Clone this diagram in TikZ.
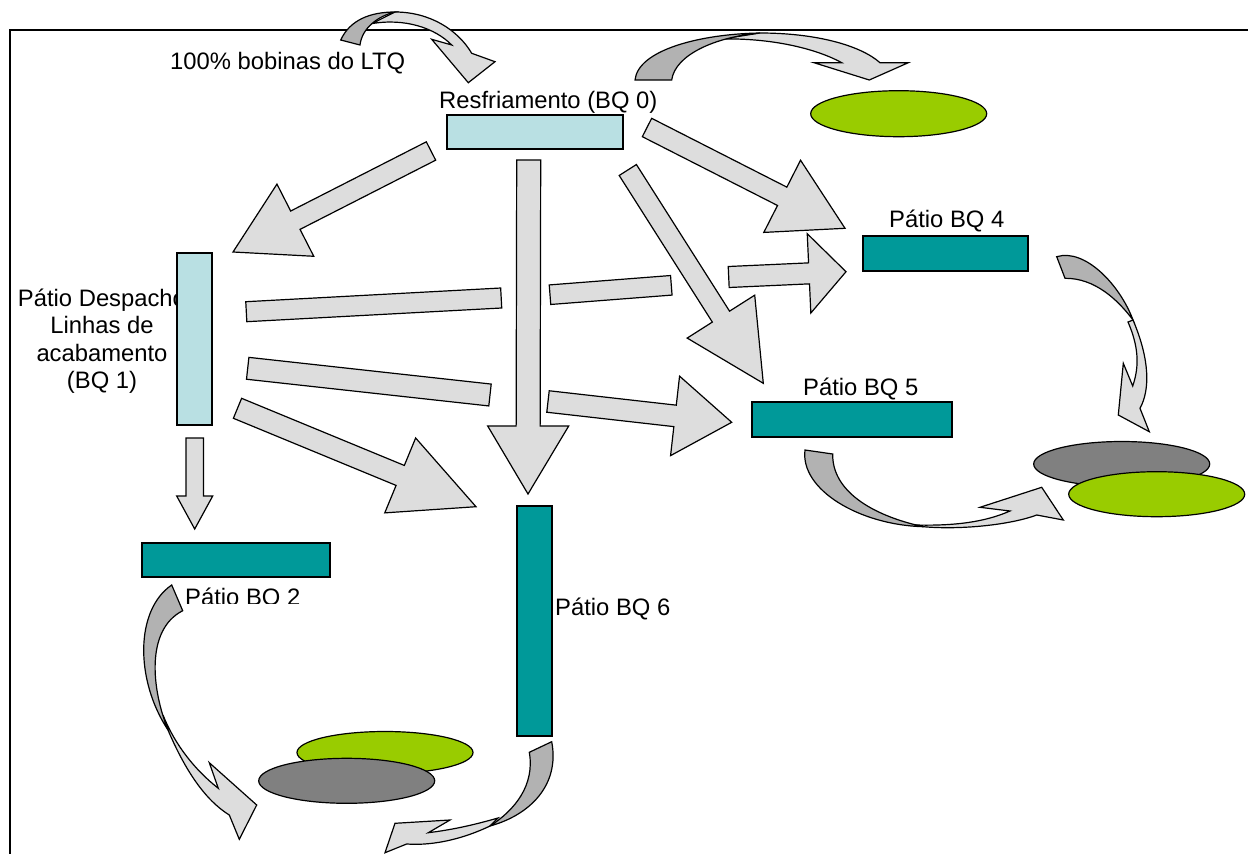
\documentclass[tikz,border=0pt]{standalone}
\usepackage{fontspec}
\setmainfont{Liberation Sans}
\usetikzlibrary{calc,shapes.geometric}
\definecolor{lblue}{HTML}{B9E0E3}
\definecolor{bqteal}{HTML}{009999}
\definecolor{agray}{HTML}{DDDDDD}
\definecolor{dgray}{HTML}{B2B2B2}
\definecolor{egray}{HTML}{808080}
\definecolor{lgreen}{HTML}{99CC00}
\newcommand{\blockarr}[5]{%
  \coordinate (bab) at ($(#2)!#5!(#1)$);
  \filldraw[arr] ($(#1)!#3!90:(#2)$) -- ($(bab)!#3!90:(#2)$) -- ($(bab)!#4!90:(#2)$) -- (#2) -- ($(bab)!#4!-90:(#2)$) -- ($(bab)!#3!-90:(#2)$) -- ($(#1)!#3!-90:(#2)$) -- cycle;}
\newcommand{\blockbar}[3]{%
  \filldraw[arr] ($(#1)!#3!90:(#2)$) -- ($(#2)!#3!-90:(#1)$) -- ($(#2)!#3!90:(#1)$) -- ($(#1)!#3!-90:(#2)$) -- cycle;}
\begin{document}
\begin{tikzpicture}[x=1pt,y=-1pt,
  box/.style={draw=black, line width=1.2pt, inner sep=0pt},
  arr/.style={fill=agray, draw=black, line width=1.2pt},
  arrd/.style={fill=dgray, draw=black, line width=1.2pt},
  ell/.style={ellipse, draw=black, line width=1.2pt, inner sep=0pt, minimum width=176pt, minimum height=45pt},
  lbl/.style={font=\fontsize{23.8}{27.5}\selectfont, inner sep=0pt}]
\useasboundingbox (0,0) rectangle (1248,854);
\fill[white] (0,0) rectangle (1248,854);
% frame
\draw[line width=1.2pt] (10,854) -- (10,30) -- (1248,30);
% BQ1 text under its box
\node[lbl, align=center] (t1) at (102,341) {Pátio Despacho\\Linhas de\\acabamento\\(BQ 1)};
% boxes
\node[box, fill=lblue, minimum width=176pt, minimum height=34pt] (bq0) at (535,132) {};
\node[box, fill=lblue, minimum width=35pt, minimum height=172pt] (bq1) at (194.5,339) {};
\node[box, fill=bqteal, minimum width=165pt, minimum height=35pt] (bq4) at (945.5,253.5) {};
\node[box, fill=bqteal, minimum width=200pt, minimum height=35pt] (bq5) at (852,419.5) {};
\node[box, fill=bqteal, minimum width=188pt, minimum height=34pt] (bq2) at (236,560) {};
\node[box, fill=bqteal, minimum width=35pt, minimum height=230pt] (bq6) at (534.5,621) {};
% straight block arrows
\coordinate (a1s) at (431,151);   \coordinate (a1t) at (233,252);
\coordinate (a2s) at (647,127.5); \coordinate (a2t) at (845,228.3);
\coordinate (a3s) at (627.8,170); \coordinate (a3t) at (763.3,383.3);
\coordinate (a4s) at (528.7,160); \coordinate (a4t) at (528,494);
\coordinate (a7s) at (237.5,408.3); \coordinate (a7t) at (476,506.7);
\coordinate (a8s) at (194.7,438); \coordinate (a8t) at (194.7,529);
\coordinate (aCs) at (728.7,277); \coordinate (aCt) at (846,271.7);
\coordinate (aEs) at (548,401.5); \coordinate (aEt) at (731.7,422.3);
\coordinate (rAs) at (246.3,311.7); \coordinate (rAt) at (501.2,298);
\coordinate (rBs) at (550,294.7); \coordinate (rBt) at (671.3,285.3);
\coordinate (rDs) at (247.7,368.3); \coordinate (rDt) at (490,395);
\blockarr{a1s}{a1t}{10.3pt}{40.5pt}{70pt}
\blockarr{a2s}{a2t}{10.3pt}{40.5pt}{70.5pt}
\blockarr{a3s}{a3t}{10.2pt}{40pt}{79pt}
\blockarr{a4s}{a4t}{12pt}{40.5pt}{68pt}
\blockarr{a7s}{a7t}{10.8pt}{40.5pt}{82pt}
\blockarr{a8s}{a8t}{8.7pt}{18pt}{33pt}
\blockarr{aCs}{aCt}{10.5pt}{39.7pt}{37pt}
\blockarr{aEs}{aEt}{10.8pt}{40pt}{57pt}
\blockbar{rAs}{rAt}{10pt}
\blockbar{rBs}{rBt}{9.8pt}
\blockbar{rDs}{rDt}{11pt}
% curved arrows
% top-left (into BQ0)
\filldraw[arr] (395,12) .. controls (430,12) and (458,30) .. (471.7,53.3) -- (495,61.7) -- (468.3,82.7) -- (431.7,39.3) -- (451.7,45) .. controls (435,28) and (405,18) .. (372,23.6) -- cycle;
\filldraw[arrd] (340.7,40) .. controls (350,20) and (370,12) .. (395,12) .. controls (378,16) and (362,28) .. (360,45) -- cycle;
% top-right
\filldraw[arr] (760,33) .. controls (815,33) and (860,45) .. (880,62.7) -- (908.3,62.7) -- (869.3,80) -- (814,62.7) -- (841.7,62.7) .. controls (815,48) and (770,38) .. (722,39) -- cycle;
\filldraw[arrd] (635,80) .. controls (638,50) and (700,34) .. (760,33) .. controls (715,37) and (675,55) .. (671.7,80) -- cycle;
% right (BQ4)
\filldraw[arr] (1133,320) .. controls (1150,360) and (1150,390) .. (1140,408.3) -- (1149.3,431.7) -- (1118.3,415) -- (1123.3,363.3) -- (1132.7,386) .. controls (1140,365) and (1138,345) .. (1128,322) -- cycle;
\filldraw[arrd] (1056.7,256.7) .. controls (1085,248) and (1120,285) .. (1133,320) .. controls (1118,300) and (1095,278) .. (1065,278.3) -- cycle;
% BQ5
\filldraw[arr] (923.3,526.7) .. controls (960,530) and (1010,525) .. (1036.7,515) -- (1063.3,520) -- (1041.7,487.3) -- (980,507.3) -- (1010,511) .. controls (985,522) and (955,526) .. (915,525) -- cycle;
\filldraw[arrd] (805,450) .. controls (800,490) and (860,525) .. (923.3,526.7) .. controls (870,515) and (832,490) .. (832.7,454) -- cycle;
% BQ2
\filldraw[arr] (168,730) .. controls (185,770) and (205,800) .. (229.3,815) -- (239.3,839.3) -- (256.7,805) -- (209.3,762.7) -- (218.3,788.3) .. controls (195,770) and (175,745) .. (163,715) -- cycle;
\filldraw[arrd] (171.7,585) .. controls (135,610) and (135,680) .. (168,730) .. controls (152,690) and (145,630) .. (182.7,610.7) -- cycle;
% BQ6
\filldraw[arr] (490,826) .. controls (465,838) and (435,846) .. (406.7,844) -- (385,852.7) -- (395,823.3) -- (450,820) -- (428.3,832.7) .. controls (450,830) and (470,826) .. (498,818) -- cycle;
\filldraw[arrd] (551.7,741.7) .. controls (560,785) and (530,815) .. (490,826) .. controls (515,810) and (535,785) .. (529.3,752.3) -- cycle;
% ellipses
\node[ell, fill=lgreen, minimum height=46pt] (e0) at (898.7,113.7) {};
\node[ell, fill=egray] (e5a) at (1121.7,464) {};
\node[ell, fill=lgreen] (e5b) at (1156.7,494.2) {};
\node[ell, fill=lgreen, minimum height=42pt] (e2a) at (385,752.5) {};
\node[ell, fill=egray] (e2b) at (346.7,780.8) {};
% labels
\node[lbl, anchor=base west] (tin) at (170,69) {100\% bobinas do LTQ};
\node[lbl, anchor=base west] (t0) at (439,108) {Resfriamento (BQ 0)};
\node[lbl, anchor=base west] (t4) at (889,227) {Pátio BQ 4};
\node[lbl, anchor=base west] (t5) at (803,395) {Pátio BQ 5};
\node[lbl, anchor=base west] (t6) at (555,615) {Pátio BQ 6};
\begin{scope}
\clip (150,579) rectangle (340,603);
\node[lbl, anchor=base west] (t2) at (185,605) {Pátio BQ 2};
\end{scope}
\end{tikzpicture}
\end{document}
